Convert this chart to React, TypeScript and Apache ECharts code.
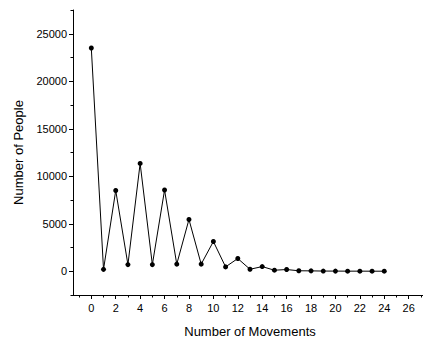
import React, { useEffect, useRef } from "react";
import * as echarts from "echarts";

const movements = [0, 1, 2, 3, 4, 5, 6, 7, 8, 9, 10, 11, 12, 13, 14, 15, 16, 17, 18, 19, 20, 21, 22, 23, 24];
const people = [23500, 200, 8500, 700, 11350, 700, 8550, 750, 5450, 750, 3130, 460, 1340, 210, 490, 110, 180, 50, 40, 20, 15, 10, 10, 5, 5];
const xMajor = [0, 2, 4, 6, 8, 10, 12, 14, 16, 18, 20, 22, 24, 26];
const xMinor = [-1, 1, 3, 5, 7, 9, 11, 13, 15, 17, 19, 21, 23, 25, 27];
const yMajor = [0, 5000, 10000, 15000, 20000, 25000];
const yMinor = [-2500, 2500, 7500, 12500, 17500, 22500, 27500];

const FONT = "Liberation Sans, Arial, sans-serif";

export default function App() {
  const ref = useRef<HTMLDivElement>(null);
  useEffect(() => {
    if (!ref.current) return;
    const chart = echarts.init(ref.current, undefined, { renderer: "svg" });
    const lineStyle = { color: "#000", width: 1 };
    const fmt = (v: number) => String(v);
    const baseX = {
      type: "value" as const,
      min: -1.5,
      max: 27.5,
      position: "bottom" as const,
      splitLine: { show: false },
    };
    const baseY = {
      type: "value" as const,
      min: -2500,
      max: 27500,
      position: "left" as const,
      splitLine: { show: false },
    };
    chart.setOption({
      animation: false,
      grid: { left: 73, top: 10, width: 354, height: 285, containLabel: false, outerBoundsMode: "none" },
      xAxis: [
        {
          ...baseX,
          name: "Number of Movements",
          nameLocation: "middle",
          nameGap: 30,
          nameTextStyle: { fontFamily: FONT, fontSize: 13, color: "#000" },
          axisLine: { show: true, onZero: false, lineStyle },
          axisTick: { show: true, length: 4, customValues: xMajor, lineStyle },
          axisLabel: { customValues: xMajor, formatter: fmt, fontFamily: FONT, fontSize: 11, color: "#000", margin: 7 },
        },
        {
          ...baseX,
          axisLine: { show: false, onZero: false },
          axisTick: { show: true, length: 2.5, customValues: xMinor, lineStyle },
          axisLabel: { show: false },
        },
      ],
      yAxis: [
        {
          ...baseY,
          name: "Number of People",
          nameLocation: "middle",
          nameGap: 48,
          nameTextStyle: { fontFamily: FONT, fontSize: 13, color: "#000" },
          axisLine: { show: true, onZero: false, lineStyle },
          axisTick: { show: true, length: 4, customValues: yMajor, lineStyle },
          axisLabel: { customValues: yMajor, formatter: fmt, fontFamily: FONT, fontSize: 11, color: "#000", margin: 6 },
        },
        {
          ...baseY,
          axisLine: { show: false, onZero: false },
          axisTick: { show: true, length: 2.5, customValues: yMinor, lineStyle },
          axisLabel: { show: false },
        },
      ],
      series: [
        {
          type: "line",
          xAxisIndex: 0,
          yAxisIndex: 0,
          data: movements.map((m, i) => [m, people[i]]),
          symbol: "circle",
          symbolSize: 5,
          itemStyle: { color: "#000" },
          lineStyle: { color: "#000", width: 1 },
        },
      ],
    });
    return () => chart.dispose();
  }, []);
  return <div ref={ref} style={{ width: 423, height: 338, position: "absolute", left: 0, top: 0 }} />;
}
